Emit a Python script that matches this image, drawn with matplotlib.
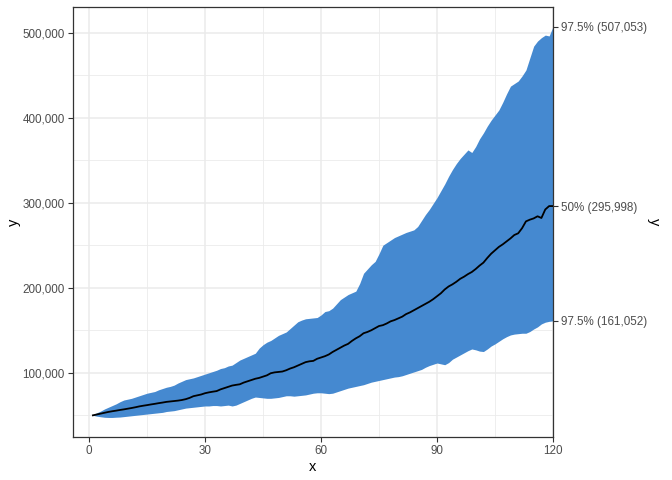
import numpy as np
import matplotlib.pyplot as plt
from matplotlib.ticker import MultipleLocator, FuncFormatter

plt.rcParams['font.family'] = ['Liberation Sans', 'DejaVu Sans']

# values in thousands, x = 1..120
upper_k = [
    50.5, 53, 55, 57.5, 59.5, 61.5, 63.5, 66, 68, 69,
    70, 71.5, 73, 74.5, 76, 77, 78, 80, 81.5, 83,
    84, 85.5, 88, 90, 92, 93, 94, 95.5, 97, 98.5,
    100, 101.5, 103, 105, 106, 108, 109, 112, 115, 117,
    119, 121, 123, 129, 133, 136, 138, 141, 144, 146,
    148, 152, 156, 160, 162, 163.5, 164, 164.5, 165, 168,
    172, 173, 176, 181, 186, 189, 192, 194, 196, 205,
    217, 222, 227, 231, 240, 250, 253, 256, 259, 261,
    263, 265, 266.5, 268, 272, 279, 286, 292, 299, 306,
    314, 322, 331, 339, 346, 352, 357, 362, 359, 366,
    375, 382, 390, 397, 403, 409, 418, 428, 437, 440,
    443, 449, 456, 470, 484, 490, 494, 497, 496, 507.053,
]

median_k = [
    50, 51, 52, 53, 54, 54.8, 55.5, 56.3, 57, 57.8,
    58.6, 59.5, 60.5, 61.3, 62, 62.8, 63.5, 64.3, 65, 65.8,
    66.3, 66.8, 67.3, 68, 69, 70.5, 72.5, 73.5, 74.5, 76,
    77, 77.8, 78.5, 80.5, 82, 83.5, 85, 85.8, 86.5, 88.5,
    90, 91.5, 93, 94, 95.5, 97, 99.5, 100.5, 101, 101.5,
    103, 105, 106.5, 108.5, 110.5, 112.5, 113.5, 114, 116.5, 118,
    119.5, 121.5, 124.5, 127, 129.5, 132, 134, 137.5, 140.5, 143,
    146.5, 148, 150, 152.5, 155, 156, 158, 160.5, 162, 164,
    166, 169, 171, 173.5, 176, 178.5, 181, 183.5, 186.5, 190,
    193.5, 198, 201.5, 204, 207, 210.5, 213, 216, 218.5, 222,
    226, 229.5, 235, 240, 244, 248, 251, 254.5, 258, 262,
    264, 270, 278, 280, 281.5, 284, 282, 292, 296, 295.998,
]

lower_k = [
    50, 49, 48.3, 47.7, 47.5, 47.5, 47.8, 48, 48.5, 49,
    49.5, 50, 50.5, 51, 51.5, 52, 52.5, 53, 53.5, 54.5,
    55, 55.5, 56.5, 57.5, 58.5, 59, 59.5, 60, 60.5, 61,
    61, 61.5, 61.5, 61, 61.5, 62, 61, 62, 64, 66,
    68, 70, 71.5, 71, 70.5, 70, 70, 70.5, 71, 72,
    73, 73, 72.5, 73, 73.5, 74, 75, 76, 76.5, 76.5,
    76, 75.5, 76, 77.5, 79, 80.5, 82, 83, 84, 85,
    86, 87.5, 89, 90, 91, 92, 93, 94, 95, 95.5,
    96.5, 98, 99.5, 101, 102.5, 104, 106.5, 108.5, 110, 111.5,
    110.5, 109.5, 112, 116, 118.5, 121, 123.5, 126, 128, 127,
    125.5, 125, 128, 131.5, 134, 137, 140, 142.5, 144.5, 145.5,
    146, 146.5, 146.5, 148.5, 151.5, 154, 157.5, 159.5, 160.5, 161.052,
]

x = np.arange(1, 121)
upper = np.array(upper_k) * 1000
median = np.array(median_k) * 1000
lower = np.array(lower_k) * 1000

right_labels = ["97.5% (507,053)", "50% (295,998)", "97.5% (161,052)"]

TXT = "#4D4D4D"
AX = "#333333"

fig = plt.figure(figsize=(6.72, 4.8), dpi=100)
ax = fig.add_axes([73 / 672, 43 / 480, 480 / 672, 430 / 480])

ax.fill_between(x, lower, upper, color="#4589d0", linewidth=0, zorder=2)
ax.plot(x, median, color="black", linewidth=1.3, zorder=3)

lo, hi = lower.min(), upper.max()
pad = (hi - lo) * 0.05
ax.set_ylim(lo - pad, hi + pad)
ax.set_xlim(-4.15, 120)

ax.xaxis.set_major_locator(MultipleLocator(30))
ax.xaxis.set_minor_locator(MultipleLocator(15))
ax.yaxis.set_major_locator(MultipleLocator(100000))
ax.yaxis.set_minor_locator(MultipleLocator(50000))
ax.yaxis.set_major_formatter(FuncFormatter(lambda v, p: f"{int(v):,}"))

ax.set_axisbelow(True)
ax.grid(which="major", color="#EBEBEB", linewidth=1.1)
ax.grid(which="minor", color="#EBEBEB", linewidth=0.6)

ax.tick_params(which="major", length=3.5, width=0.8, color=AX,
               labelcolor=TXT, labelsize=8.4, pad=2.5)
ax.tick_params(which="minor", length=0)

for s in ax.spines.values():
    s.set_color(AX)
    s.set_linewidth(0.9)

ax.set_xlabel("x", fontsize=10.5, color="black", labelpad=2)
ax.set_ylabel("y", fontsize=10.5, color="black", labelpad=1)

ax2 = ax.twinx()
ax2.set_ylim(ax.get_ylim())
ax2.set_yticks([upper[-1], median[-1], lower[-1]])
ax2.set_yticklabels(right_labels)
ax2.tick_params(length=3.5, width=0.8, color=AX, labelcolor=TXT,
                labelsize=8.4, pad=2.5)
for s in ax2.spines.values():
    s.set_visible(False)
ax2.set_ylabel("y", fontsize=10.5, color="black", rotation=270, labelpad=10)

fig.savefig("out.png", dpi=100)
